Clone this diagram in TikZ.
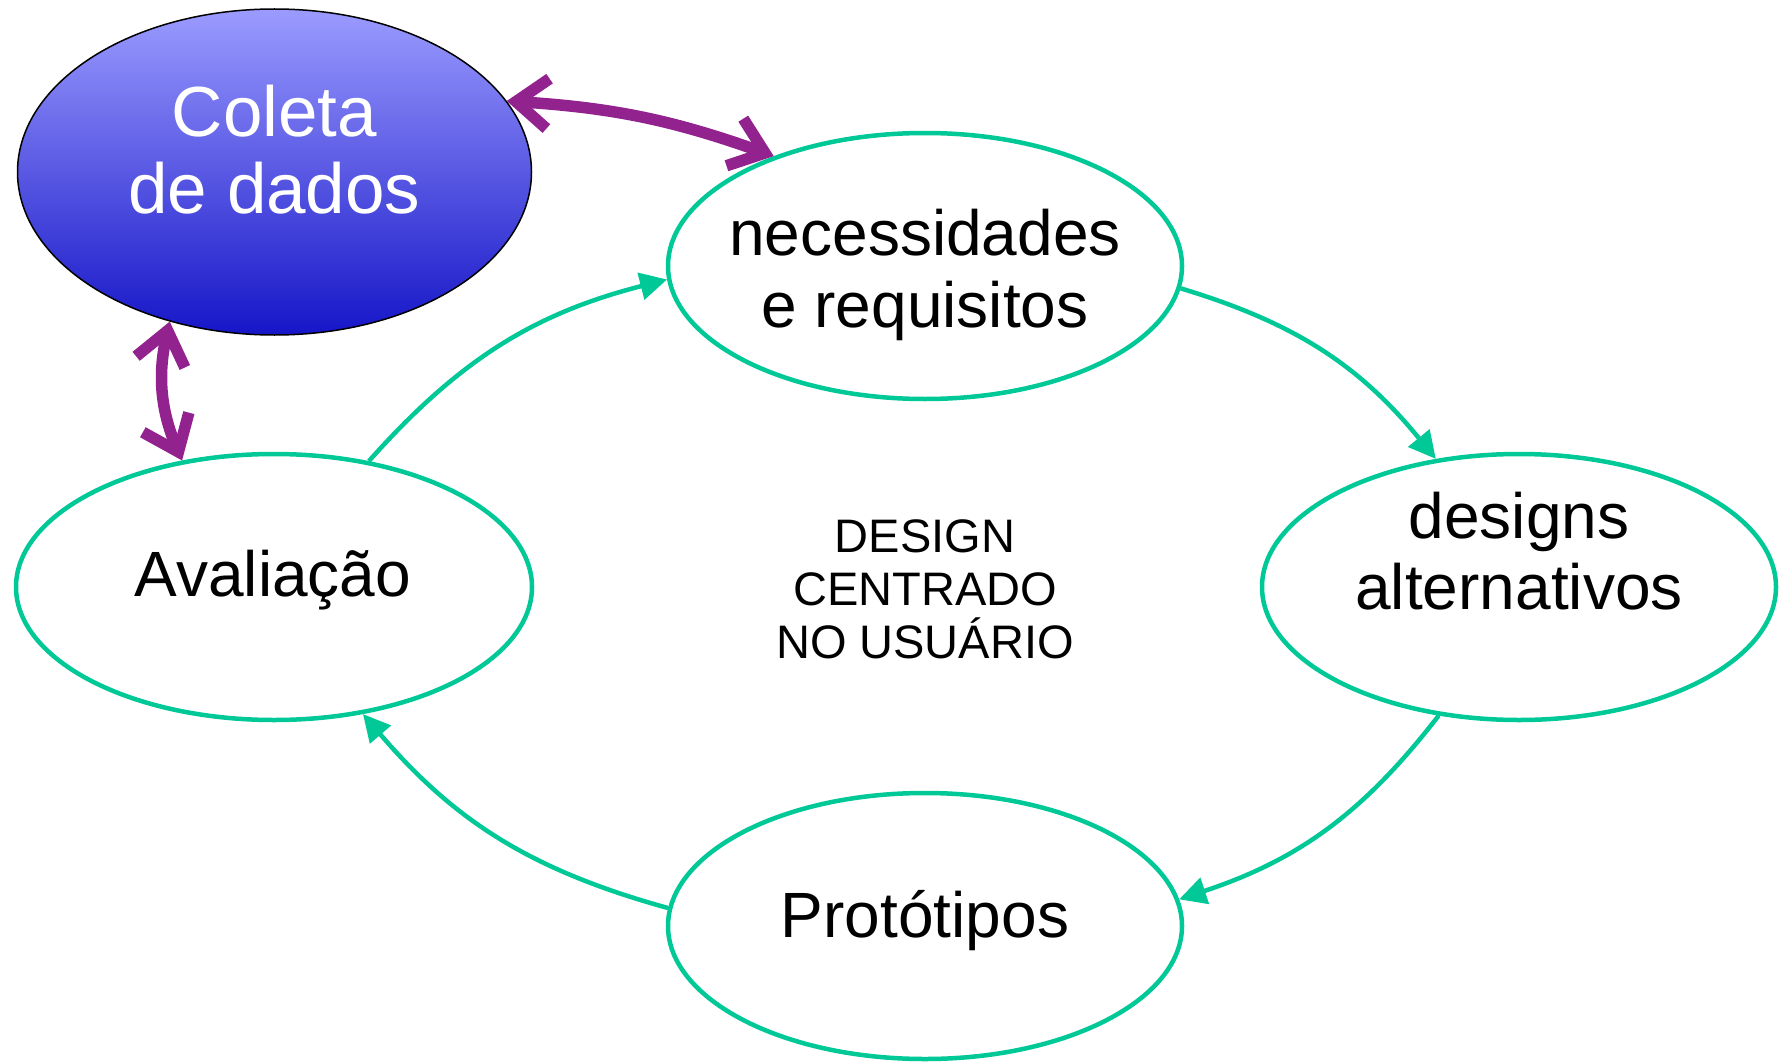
\documentclass[tikz,border=0pt]{standalone}
\usepackage{fontspec}
\setmainfont{Liberation Sans}
\usetikzlibrary{arrows.meta,shapes.geometric}
\definecolor{grn}{RGB}{0,200,150}
\definecolor{prp}{RGB}{146,34,142}
\definecolor{ctop}{RGB}{155,155,255}
\definecolor{cbot}{RGB}{22,22,200}
\begin{document}
\begin{tikzpicture}[x=1pt,y=-1pt,
  stage/.style={ellipse,draw=grn,line width=4.5pt,minimum width=514pt,minimum height=266pt,inner sep=0pt,fill=white},
  big/.style={font=\fontsize{64}{70}\selectfont,anchor=base,inner sep=0pt},
  mid/.style={font=\fontsize{47}{53}\selectfont,anchor=base,inner sep=0pt},
  coltxt/.style={font=\fontsize{71}{76}\selectfont,anchor=base,inner sep=0pt,text=white},
  flow/.style={draw=grn,line width=4.5pt,-{Triangle[length=27pt,width=27pt]}},
  link/.style={draw=prp,line width=11.5pt,{Straight Barb[length=32pt,width=50pt]}-{Straight Barb[length=32pt,width=50pt]}},
]
\useasboundingbox (0,0) rectangle (1786,1062);
\node[ellipse,draw=black,line width=1.5pt,top color=ctop,bottom color=cbot,minimum width=514pt,minimum height=326pt,inner sep=0pt] (col) at (274.5,172) {};
\node[stage] (nec) at (925,266) {};
\node[stage] (des) at (1519,587) {};
\node[stage] (pro) at (925,926) {};
\node[stage,minimum width=516pt] (ava) at (274,587) {};

\node[coltxt] (col1) at (274.5,137) {Coleta};
\node[coltxt] (col2) at (274.5,213) {de dados};
\node[big] (nec1) at (925,255) {necessidades};
\node[big] (nec2) at (925,327) {e requisitos};
\node[big] (des1) at (1519,538) {designs};
\node[big] (des2) at (1519,609) {alternativos};
\node[big] (ava1) at (273,596) {Avaliação};
\node[big] (pro1) at (925,937) {Protótipos};
\node[mid] (c1) at (925,552) {DESIGN};
\node[mid] (c2) at (925,605) {CENTRADO};
\node[mid] (c3) at (925,658) {NO USUÁRIO};

\draw[flow] (nec.-5) to[bend left=17] (des.123);
\draw[flow] (des.238) to[bend left=17] (pro.6);
\draw[flow] (pro.176) to[bend left=17] (ava.-55);
\draw[flow] (ava.53) to[bend left=17] (nec.183);

\draw[link] (col.17) to[bend left=8] (nec.144);
\draw[link] (col.235) to[bend right=18] (ava.126);
\end{tikzpicture}
\end{document}
